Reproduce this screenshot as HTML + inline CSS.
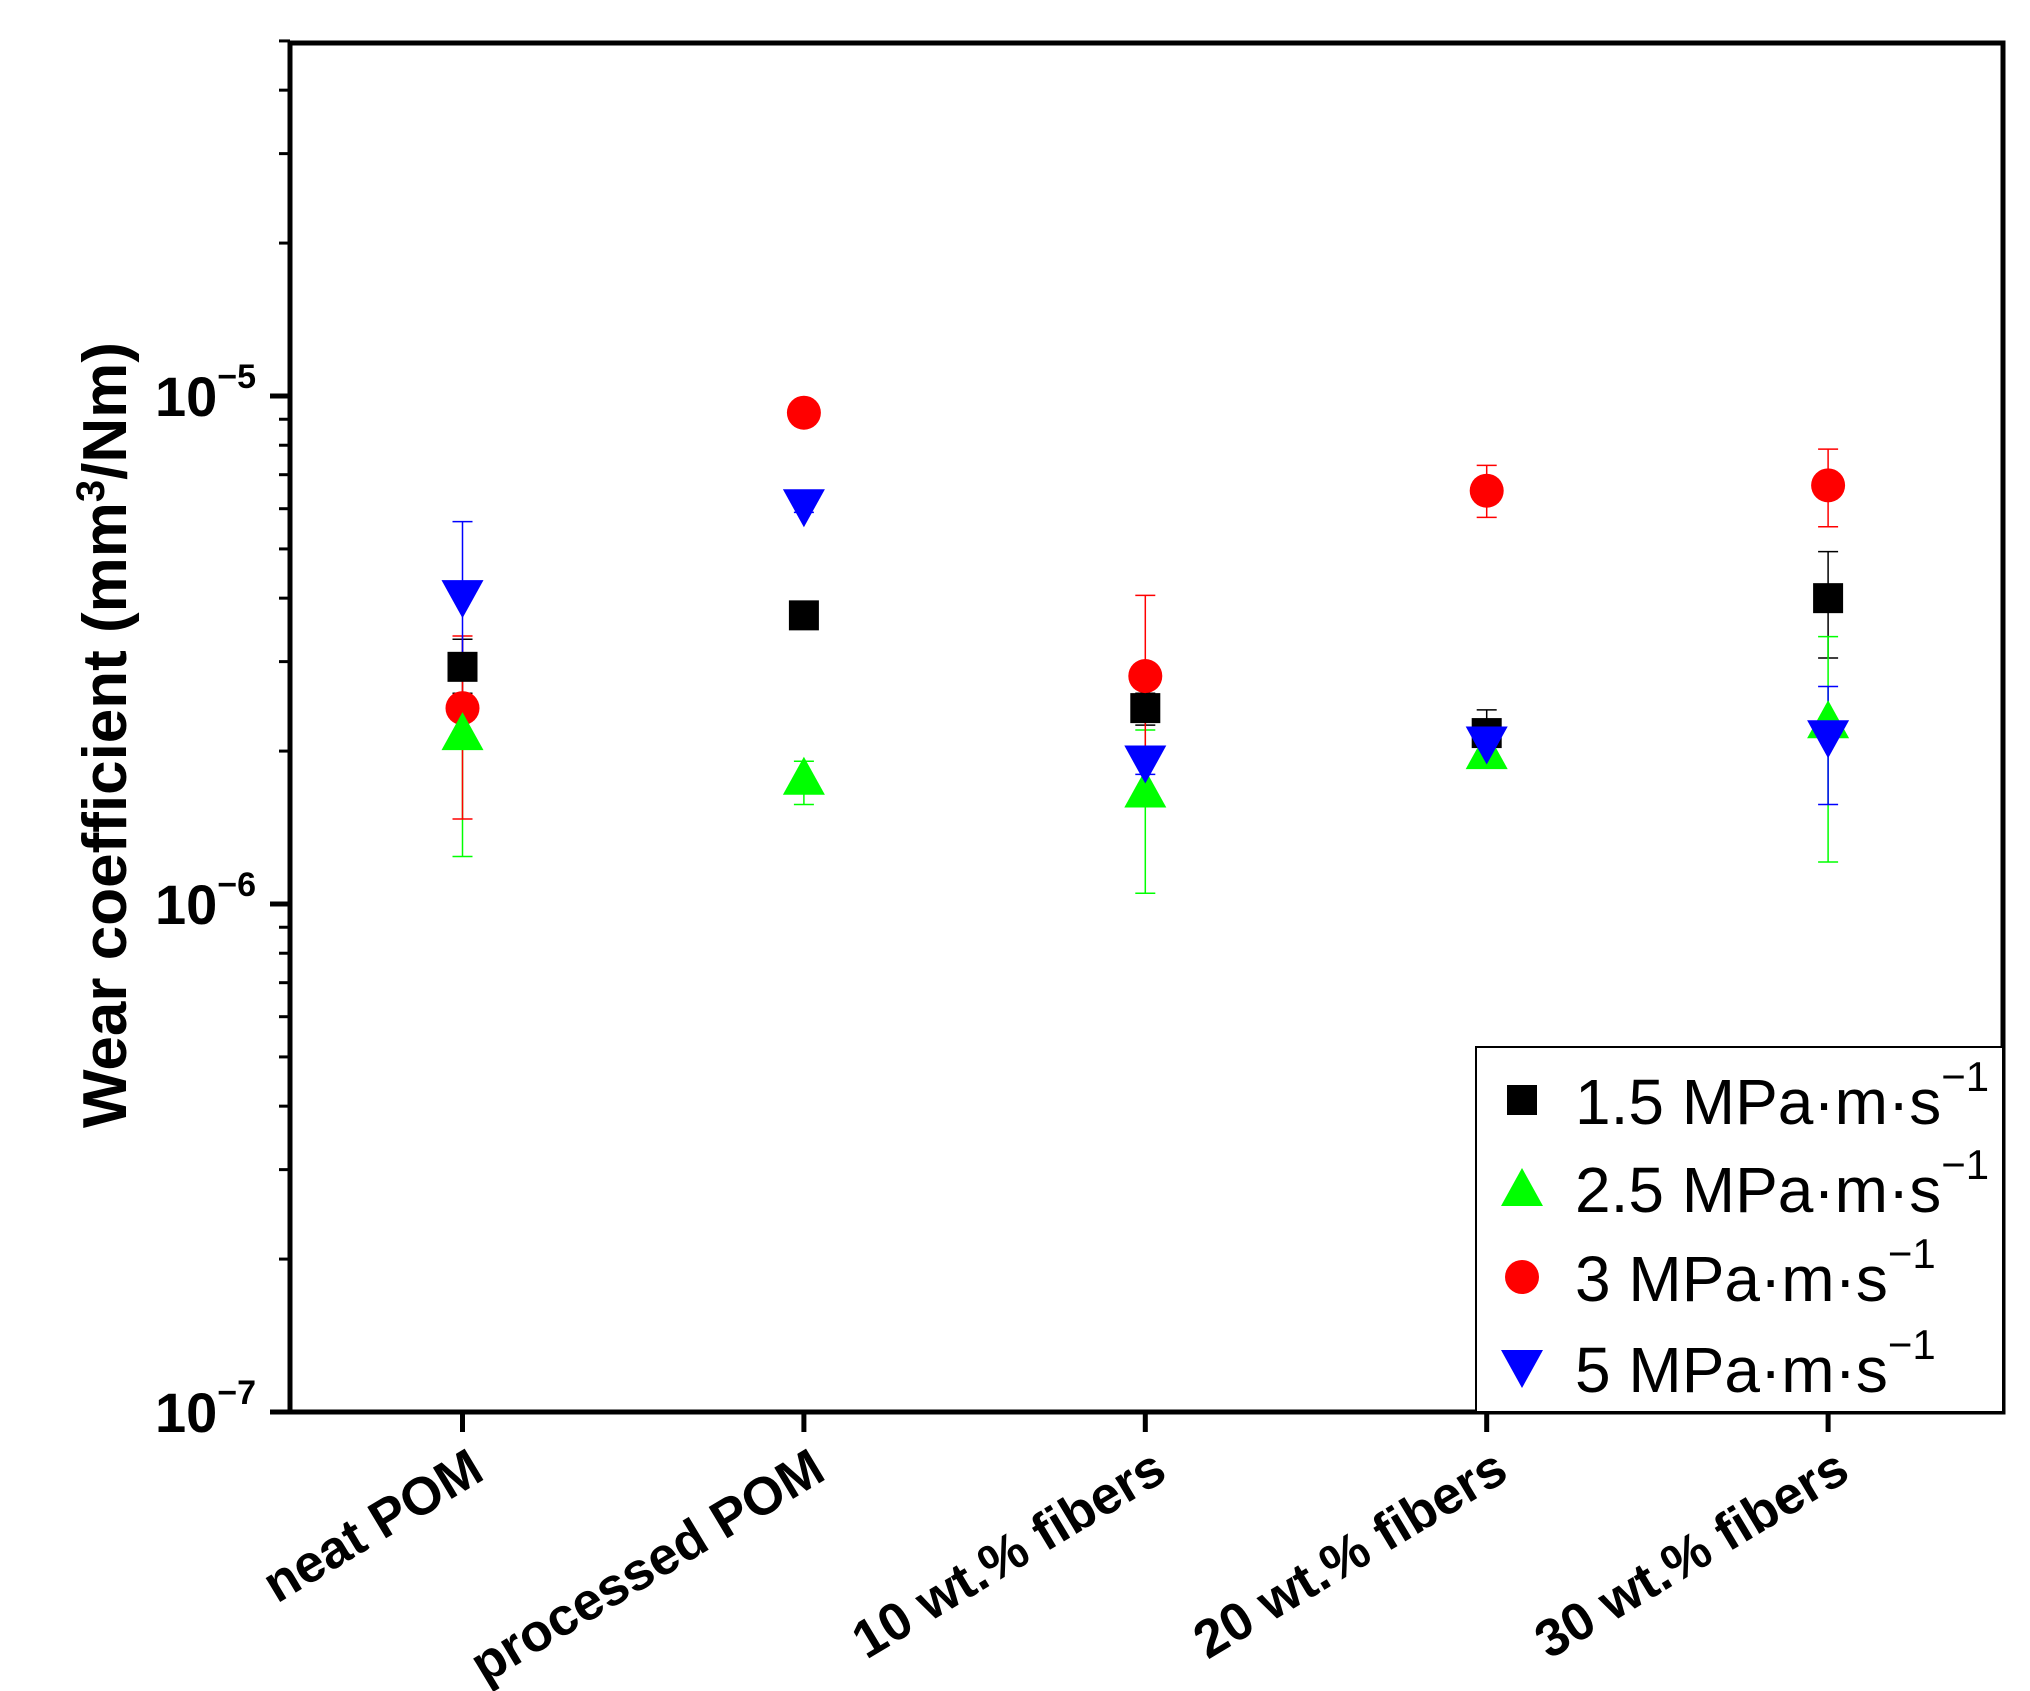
<!DOCTYPE html>
<html><head><meta charset="utf-8"><style>
html,body{margin:0;padding:0;background:#fff;}
svg{display:block;font-family:"Liberation Sans",Arial,sans-serif;}
</style></head><body>
<svg id="chart" width="2030" height="1691" viewBox="0 0 2030 1691" xmlns="http://www.w3.org/2000/svg">
<rect x="0" y="0" width="2030" height="1691" fill="#fff"/>
<g id="marks"></g>
<rect x="290" y="43" width="1713" height="1369" fill="none" stroke="#000" stroke-width="5"/>
<g id="axes"></g>
<text transform="translate(126,735) rotate(-90)" text-anchor="middle" font-size="62" font-weight="bold">Wear coefficient (mm<tspan font-size="40" dy="-22">3</tspan><tspan dy="22">/Nm)</tspan></text>
<g id="legend">
<rect x="1476" y="1047" width="527" height="365" fill="#fff" stroke="#000" stroke-width="2"/>
</g>
</svg>
<script>
const categories = ["neat POM","processed POM","10 wt.% fibers","20 wt.% fibers","30 wt.% fibers"];
const seriesNames = ["1.5 MPa·m·s","2.5 MPa·m·s","3 MPa·m·s","5 MPa·m·s"];
const seriesColors = ["#000000","#00ff00","#ff0000","#0000ff"];
const seriesShapes = ["square","up","circle","down"];
const v15 = [2.93e-6,3.7e-6,2.43e-6,2.17e-6,4.0e-6];
const e15lo = [2.6e-6,3.5e-6,2.25e-6,1.97e-6,3.05e-6];
const e15hi = [3.32e-6,3.9e-6,2.6e-6,2.41e-6,4.94e-6];
const v25 = [2.18e-6,1.78e-6,1.68e-6,2.0e-6,2.3e-6];
const e25lo = [1.24e-6,1.57e-6,1.05e-6,1.92e-6,1.21e-6];
const e25hi = [2.5e-6,1.91e-6,2.2e-6,2.1e-6,3.36e-6];
const v3 = [2.43e-6,9.27e-6,2.81e-6,6.51e-6,6.67e-6];
const e3lo = [1.47e-6,9.0e-6,1.6e-6,5.77e-6,5.53e-6];
const e3hi = [3.37e-6,9.5e-6,4.05e-6,7.3e-6,7.86e-6];
const v5 = [4.0e-6,6.04e-6,1.89e-6,2.06e-6,2.12e-6];
const e5lo = [3.0e-6,5.9e-6,1.8e-6,1.98e-6,1.57e-6];
const e5hi = [5.66e-6,6.2e-6,2.0e-6,2.15e-6,2.68e-6];
const yMajorExp = [-7,-6,-5];

const NS="http://www.w3.org/2000/svg";
const X0=290, YB=1412, DEC=508;
function yPos(v){return YB-(Math.log10(v)+7)*DEC;}
function xPos(i){return 462.5+i*341.4;}
function mk(tag,attrs,parent){const e=document.createElementNS(NS,tag);for(const k in attrs)e.setAttribute(k,attrs[k]);parent.appendChild(e);return e;}
const marks=document.getElementById('marks'), axes=document.getElementById('axes');
function shape(kind,cx,cy,color,parent){
  if(kind==="square") return mk('rect',{x:cx-15,y:cy-15,width:30,height:30,fill:color},parent);
  if(kind==="circle") return mk('circle',{cx:cx,cy:cy,r:17,fill:color},parent);
  if(kind==="up") return mk('polygon',{points:`${cx-21},${cy+18} ${cx+21},${cy+18} ${cx},${cy-20}`,fill:color},parent);
  return mk('polygon',{points:`${cx-21},${cy-18} ${cx+21},${cy-18} ${cx},${cy+20}`,fill:color},parent);
}
const vals=[v15,v25,v3,v5], los=[e15lo,e25lo,e3lo,e5lo], his=[e15hi,e25hi,e3hi,e5hi];
for(let s=0;s<4;s++){for(let i=0;i<categories.length;i++){
  const x=xPos(i), c=seriesColors[s];
  const g=mk('g',{},marks);
  
  
  const a=yPos(his[s][i]), b=yPos(los[s][i]);
  mk('line',{x1:x,x2:x,y1:a,y2:b,stroke:c,'stroke-width':1.5},g);
  mk('line',{x1:x-10,x2:x+10,y1:a,y2:a,stroke:c,'stroke-width':1.5},g);
  mk('line',{x1:x-10,x2:x+10,y1:b,y2:b,stroke:c,'stroke-width':1.5},g);
}}
const order=[0,2,1,3];
for(const s of order){for(let i=0;i<categories.length;i++){
  const m=shape(seriesShapes[s],xPos(i),yPos(vals[s][i]),seriesColors[s],marks);
  
  
}}
for(const e of yMajorExp){
  const y=yPos(Math.pow(10,e));
  mk('line',{x1:X0-20,x2:X0,y1:y,y2:y,stroke:'#000','stroke-width':5},axes);
  const t=mk('text',{x:X0-34,y:y+20,'text-anchor':'end','font-size':56,'font-weight':'bold'},axes);
  
  
  t.textContent='10';
  const sp=mk('tspan',{'font-size':34,dy:-28},t); sp.textContent='\u2212'+(-e);
  for(let k=2;k<=9&&e<-4;k++){
    const v=k*Math.pow(10,e); if(v>5.1e-5)break;
    const yy=yPos(v);
    mk('line',{x1:X0-11,x2:X0,y1:yy,y2:yy,stroke:'#000','stroke-width':3},axes);
  }
}
for(let i=0;i<categories.length;i++){
  const x=xPos(i);
  mk('line',{x1:x,x2:x,y1:YB,y2:YB+20,stroke:'#000','stroke-width':5},axes);
  const t=mk('text',{transform:`translate(${x+24},${YB+66}) rotate(-31)`,'text-anchor':'end','font-size':53,'font-weight':'bold'},axes);
  
  
  t.textContent=categories[i];
}
const lg=document.getElementById('legend');
const ly=[1100,1188,1277,1368];
for(let s=0;s<4;s++){
  const g=mk('g',{},lg);
  
  
  shape(seriesShapes[s],1522,ly[s],seriesColors[s],g);
  const t=mk('text',{x:1575,y:ly[s]+24,'font-size':64},g);
  t.textContent=seriesNames[s];
  const sp=mk('tspan',{'font-size':42,dy:-33},t); sp.textContent='\u22121';
}
</script>
</body></html>
